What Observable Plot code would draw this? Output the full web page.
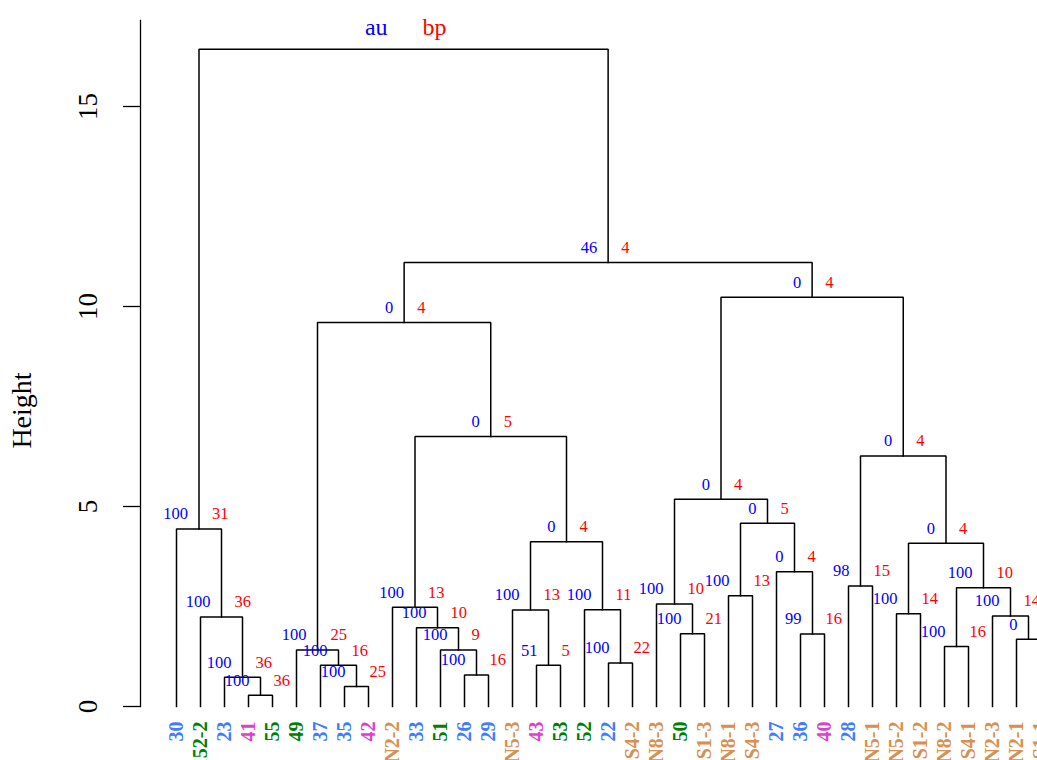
<!DOCTYPE html>
<html><head><meta charset="utf-8">
<script src="https://cdn.jsdelivr.net/npm/d3@7"></script>
<script src="https://cdn.jsdelivr.net/npm/@observablehq/plot@0.6"></script>
<style>
html,body{margin:0;padding:0;background:#fff;overflow:hidden;width:1037px;height:760px}
#chart svg{overflow:hidden;display:block}
</style></head><body><div id="chart"></div>
<script>
// Leaves in dendrogram order
const leafLabels = ["30","52-2","23","41","55","49","37","35","42","N2-2","33","51","26","29","N5-3","43","53","52","22","S4-2","N8-3","50","S1-3","N8-1","S4-3","27","36","40","28","N5-1","N5-2","S1-2","N8-2","S4-1","N2-3","N2-1","S1-1"];
const leafGroups = ["b","g","b","m","g","g","b","b","m","o","b","g","b","b","o","m","g","g","b","o","o","g","o","o","o","b","b","m","b","o","o","o","o","o","o","o","o"];
const groupColors = {b:"#3f7cff", g:"#007f00", m:"#dd3fcf", o:"#d8904e"};

// Merge table (negative = leaf index, positive = earlier merge index), R hclust style
const mergeLeft  = [-4,-8,-3,-13,-7,-16,-19,-6,-12,-33,-36,-27,-22,-11,-2,-35,-31,-15,-18,-10,-21,-24,10,-29,-26,17,18,-1,22,21,24,20,8,30,33,28];
const mergeRight = [-5,-9,1,-14,2,-17,-20,5,4,-34,-37,-28,-23,9,3,11,-32,6,7,14,13,-25,16,-30,12,23,19,15,25,29,26,27,32,31,34,35];
const mergeHeight = [0.28,0.50,0.73,0.79,1.03,1.03,1.09,1.41,1.41,1.50,1.68,1.81,1.82,1.97,2.24,2.26,2.32,2.41,2.42,2.48,2.56,2.77,2.97,3.01,3.37,4.08,4.12,4.44,4.58,5.18,6.26,6.75,9.60,10.23,11.10,16.43];
const mergeAU = [100,100,100,100,100,51,100,100,100,100,0,99,100,100,100,100,100,100,100,100,100,100,100,98,0,0,0,100,0,0,0,0,0,0,46,null];
const mergeBP = [36,25,36,16,16,5,22,25,9,16,8,16,21,10,36,14,14,13,11,13,10,13,10,15,4,4,4,31,5,4,4,5,4,4,4,null];
const yTicks = [0,5,10,15];

// compute node positions
const mx = [];
function pos(ref){ return ref < 0 ? {x: -ref, h: 0} : {x: mx[ref-1], h: mergeHeight[ref-1]}; }
const elbows = [];
const nodes = [];
mergeHeight.forEach((h, k) => {
  const L = pos(mergeLeft[k]), R = pos(mergeRight[k]);
  mx[k] = (L.x + R.x) / 2;
  elbows.push({k, x: L.x, y: L.h}, {k, x: L.x, y: h}, {k, x: R.x, y: h}, {k, x: R.x, y: R.h});
  nodes.push({x: mx[k], h, au: mergeAU[k], bp: mergeBP[k]});
});
const labelled = nodes.filter(d => d.au !== null);
const root = nodes[nodes.length - 1];
const leaves = leafLabels.map((t, i) => ({i: i + 1, t, c: groupColors[leafGroups[i]]}));

const chart = Plot.plot({
  width: 1037, height: 760,
  marginLeft: 140, marginRight: 0, marginTop: 20, marginBottom: 54,
  x: {domain: [-0.5, 36.875], axis: null},
  y: {domain: [0, 17.15], axis: null},
  style: {fontFamily: "'Liberation Serif', 'Times New Roman', serif", background: "white", overflow: "hidden"},
  marks: [
    Plot.frame({anchor: "left", stroke: "black", strokeWidth: 1.3}),
    Plot.axisY({ticks: yTicks, tickSize: 17, tickFormat: () => "", strokeWidth: 1.3, stroke: "black"}),
    Plot.text(yTicks, {frameAnchor: "left", y: d => d, text: d => String(d), dx: -52, rotate: -90, textAnchor: "middle", fontSize: 27, fill: "black"}),
    Plot.text(["Height"], {frameAnchor: "left", dx: -118, dy: 47, rotate: -90, textAnchor: "middle", fontSize: 28, fill: "black"}),
    Plot.line(elbows, {x: "x", y: "y", z: "k", stroke: "black", strokeWidth: 1.5, strokeLinejoin: "miter", strokeLinecap: "square"}),
    Plot.text(labelled, {x: "x", y: "h", text: d => String(d.au), fill: "blue", textAnchor: "end", dx: -11, dy: -15, fontSize: 16.5}),
    Plot.text(labelled, {x: "x", y: "h", text: d => String(d.bp), fill: "red", textAnchor: "start", dx: 13, dy: -15, fontSize: 16.5}),
    Plot.text([root], {x: "x", y: "h", text: () => "au", fill: "blue", textAnchor: "end", dx: -16, dy: -22, fontSize: 24}),
    Plot.text([root], {x: "x", y: "h", text: () => "bp", fill: "red", textAnchor: "start", dx: 19, dy: -22, fontSize: 24}),
    Plot.text(leaves, {x: "i", y: () => 0, text: "t", fill: "c", rotate: -90, textAnchor: "end", dy: 15, fontSize: 20, fontWeight: "bold"})
  ]
});
document.getElementById("chart").appendChild(chart);
</script></body></html>
